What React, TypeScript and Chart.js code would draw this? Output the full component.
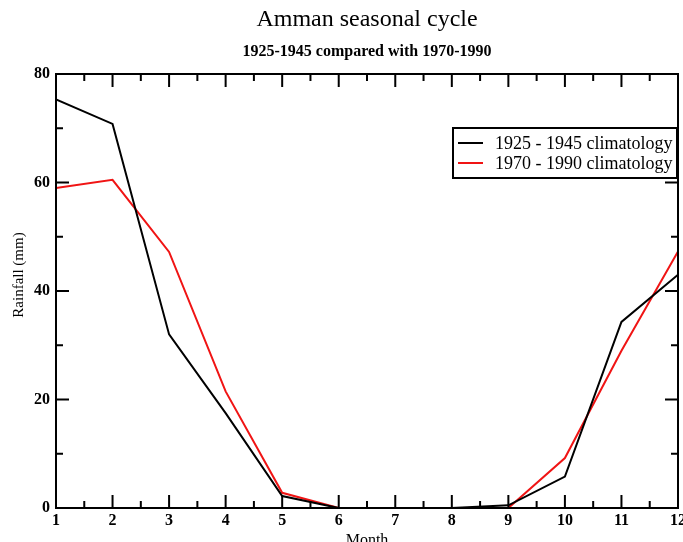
import React, { useEffect, useRef } from "react";
import { Chart, registerables } from "chart.js";

Chart.register(...registerables);

const months = [1, 2, 3, 4, 5, 6, 7, 8, 9, 10, 11, 12];
const early = [75.3, 70.8, 32.0, 17.5, 2.2, 0, 0, 0, 0.5, 5.8, 34.3, 43.0];
const late = [59.0, 60.5, 47.2, 21.5, 2.8, 0, 0, 0, 0, 9.2, 29.0, 47.3];
const yMajorTicks = [0, 20, 40, 60, 80];
const yMinorTicks = [10, 30, 50, 70];
const xMinorTicks = [1.5, 2.5, 3.5, 4.5, 5.5, 6.5, 7.5, 8.5, 9.5, 10.5, 11.5];

const titleText = "Amman seasonal cycle";
const subtitleText = "1925-1945 compared with 1970-1990";
const xTitle = "Month";
const yTitle = "Rainfall (mm)";
const earlyLabel = "1925 - 1945 climatology";
const lateLabel = "1970 - 1990 climatology";

const SERIF = "'Liberation Serif', 'Times New Roman', serif";

const framePlugin = {
  id: "frameTicks",
  afterDatasetsDraw(chart: any) {
    const { ctx, chartArea: ca, scales } = chart;
    const xs = scales.x;
    const ys = scales.y;
    ctx.save();
    ctx.strokeStyle = "#000";
    ctx.lineWidth = 2;
    ctx.strokeRect(ca.left, ca.top, ca.right - ca.left, ca.bottom - ca.top);
    const MAJ = 13;
    const MIN = 7;
    ctx.beginPath();
    months.forEach((m) => {
      const px = xs.getPixelForValue(m);
      ctx.moveTo(px, ca.bottom);
      ctx.lineTo(px, ca.bottom - MAJ);
      ctx.moveTo(px, ca.top);
      ctx.lineTo(px, ca.top + MAJ);
    });
    xMinorTicks.forEach((m) => {
      const px = xs.getPixelForValue(m);
      ctx.moveTo(px, ca.bottom);
      ctx.lineTo(px, ca.bottom - MIN);
      ctx.moveTo(px, ca.top);
      ctx.lineTo(px, ca.top + MIN);
    });
    yMajorTicks.forEach((v) => {
      const py = ys.getPixelForValue(v);
      ctx.moveTo(ca.left, py);
      ctx.lineTo(ca.left + MAJ, py);
      ctx.moveTo(ca.right, py);
      ctx.lineTo(ca.right - MAJ, py);
    });
    yMinorTicks.forEach((v) => {
      const py = ys.getPixelForValue(v);
      ctx.moveTo(ca.left, py);
      ctx.lineTo(ca.left + MIN, py);
      ctx.moveTo(ca.right, py);
      ctx.lineTo(ca.right - MIN, py);
    });
    ctx.stroke();

    // axis titles
    ctx.fillStyle = "#000";
    ctx.font = `16px ${SERIF}`;
    ctx.textAlign = "center";
    ctx.textBaseline = "middle";
    ctx.fillText(xTitle, (ca.left + ca.right) / 2, 541);
    ctx.save();
    ctx.translate(19, 275);
    ctx.rotate(-Math.PI / 2);
    ctx.font = `15px ${SERIF}`;
    ctx.fillText(yTitle, 0, 0);
    ctx.restore();

    // legend
    const bx = ca.right - 225;
    const by = ca.top + 54;
    const bw = 224;
    const bh = 50;
    ctx.fillStyle = "#fff";
    ctx.fillRect(bx, by, bw, bh);
    ctx.lineWidth = 2;
    ctx.strokeStyle = "#000";
    ctx.strokeRect(bx, by, bw, bh);
    const ds = chart.data.datasets;
    ds.forEach((d: any, i: number) => {
      const yy = by + 15 + i * 20;
      ctx.strokeStyle = d.borderColor;
      ctx.lineWidth = 2;
      ctx.beginPath();
      ctx.moveTo(bx + 5, yy);
      ctx.lineTo(bx + 30, yy);
      ctx.stroke();
      ctx.fillStyle = "#000";
      ctx.font = `18px ${SERIF}`;
      ctx.textAlign = "left";
      ctx.textBaseline = "middle";
      ctx.fillText(d.label, bx + 42, yy + 1);
    });
    ctx.restore();
  },
};

export default function App() {
  const ref = useRef<HTMLCanvasElement | null>(null);
  useEffect(() => {
    if (!ref.current) return;
    const chart = new Chart(ref.current, {
      type: "line",
      data: {
        datasets: [
          {
            label: earlyLabel,
            data: months.map((m, i) => ({ x: m, y: early[i] })),
            borderColor: "#000000",
            borderWidth: 2,
            pointRadius: 0,
            tension: 0,
            fill: false,
          },
          {
            label: lateLabel,
            data: months.map((m, i) => ({ x: m, y: late[i] })),
            borderColor: "#f01414",
            borderWidth: 2,
            pointRadius: 0,
            tension: 0,
            fill: false,
          },
        ],
      },
      options: {
        animation: false,
        responsive: false,
        devicePixelRatio: 1,
        layout: { padding: { left: 0, right: 5, top: 0, bottom: 0 } },
        plugins: {
          legend: { display: false },
          tooltip: { enabled: false },
          title: {
            display: true,
            fullSize: false,
            text: titleText,
            color: "#000",
            font: { family: SERIF, size: 24, weight: "normal" },
            padding: { top: 5, bottom: 0 },
          },
          subtitle: {
            display: true,
            fullSize: false,
            text: subtitleText,
            color: "#000",
            font: { family: SERIF, size: 16, weight: "bold" },
            padding: { top: 8.8, bottom: 12.2 },
          },
        },
        scales: {
          x: {
            type: "linear",
            min: 1,
            max: 12,
            grid: { display: false, drawTicks: false },
            border: { display: false },
            ticks: {
              stepSize: 1,
              padding: 3,
              color: "#000",
              maxRotation: 0,
              autoSkip: false,
              font: { family: SERIF, size: 16, weight: "bold" },
            },
            afterFit(scale: any) {
              scale.height = 34;
              scale.paddingLeft = 0;
              scale.paddingRight = 0;
            },
          },
          y: {
            type: "linear",
            min: 0,
            max: 80,
            grid: { display: false, drawTicks: false },
            border: { display: false },
            ticks: {
              stepSize: 20,
              padding: 6,
              color: "#000",
              font: { family: SERIF, size: 16, weight: "bold" },
            },
            afterFit(scale: any) {
              scale.width = 56;
              scale.paddingTop = 0;
              scale.paddingBottom = 0;
            },
          },
        },
      },
      plugins: [framePlugin],
    } as any);
    return () => chart.destroy();
  }, []);
  return (
    <div style={{ position: "fixed", left: 0, top: 0, width: 683, height: 542, background: "#fff" }}>
      <canvas ref={ref} width={683} height={542} />
    </div>
  );
}
